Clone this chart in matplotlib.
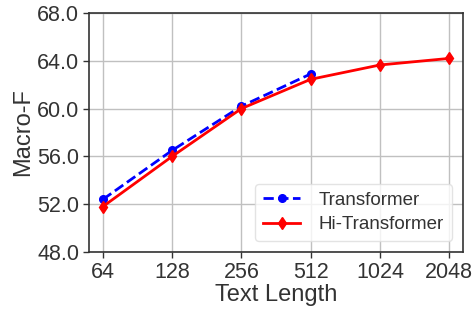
import matplotlib
matplotlib.use("Agg")
import matplotlib.pyplot as plt
import numpy as np

# Data
lengths = ["64", "128", "256", "512", "1024", "2048"]
transformer = [52.4, 56.5, 60.2, 62.9]
hi_transformer = [51.8, 56.0, 60.0, 62.45, 63.65, 64.2]
y_ticks = [48.0, 52.0, 56.0, 60.0, 64.0, 68.0]

text_color = "#333333"
plt.rcParams["font.family"] = ["Liberation Sans", "DejaVu Sans"]
plt.rcParams["text.color"] = text_color
plt.rcParams["axes.labelcolor"] = text_color
plt.rcParams["xtick.color"] = text_color
plt.rcParams["ytick.color"] = text_color

fig = plt.figure(figsize=(4.76, 3.09), dpi=100)
ax = fig.add_axes([89 / 476, 1 - 252 / 309, (463 - 89) / 476, (252 - 13) / 309])

x = np.arange(len(lengths))
ax.plot(x[: len(transformer)], transformer, "--o", color="blue", lw=2, ms=5.5,
        label="Transformer")
ax.plot(x, hi_transformer, "-d", color="red", lw=2, ms=6, label="Hi-Transformer")

ax.set_xticks(x)
ax.set_xticklabels(lengths)
ax.set_xlim(-0.2, len(lengths) - 1 + 0.2)
ax.set_ylim(48, 68)
ax.set_yticks(y_ticks)
ax.set_yticklabels([f"{v:.1f}" for v in y_ticks])
ax.tick_params(labelsize=15.5, length=4, width=1, color=text_color, pad=3)
ax.grid(True, color="#c0c0c0", lw=1)
ax.set_axisbelow(True)
for s in ax.spines.values():
    s.set_color(text_color)
    s.set_linewidth(1.2)

ax.set_xlabel("Text Length", fontsize=17, labelpad=1)
ax.set_ylabel("Macro-F", fontsize=17, labelpad=2)
ax.legend(loc="lower right", fontsize=13.5, handlelength=2.0, frameon=True,
          framealpha=0.8, edgecolor="#dddddd", borderpad=0.4, labelspacing=0.4,
          handletextpad=1.0, borderaxespad=0.6)

fig.savefig("out.png", dpi=100)
